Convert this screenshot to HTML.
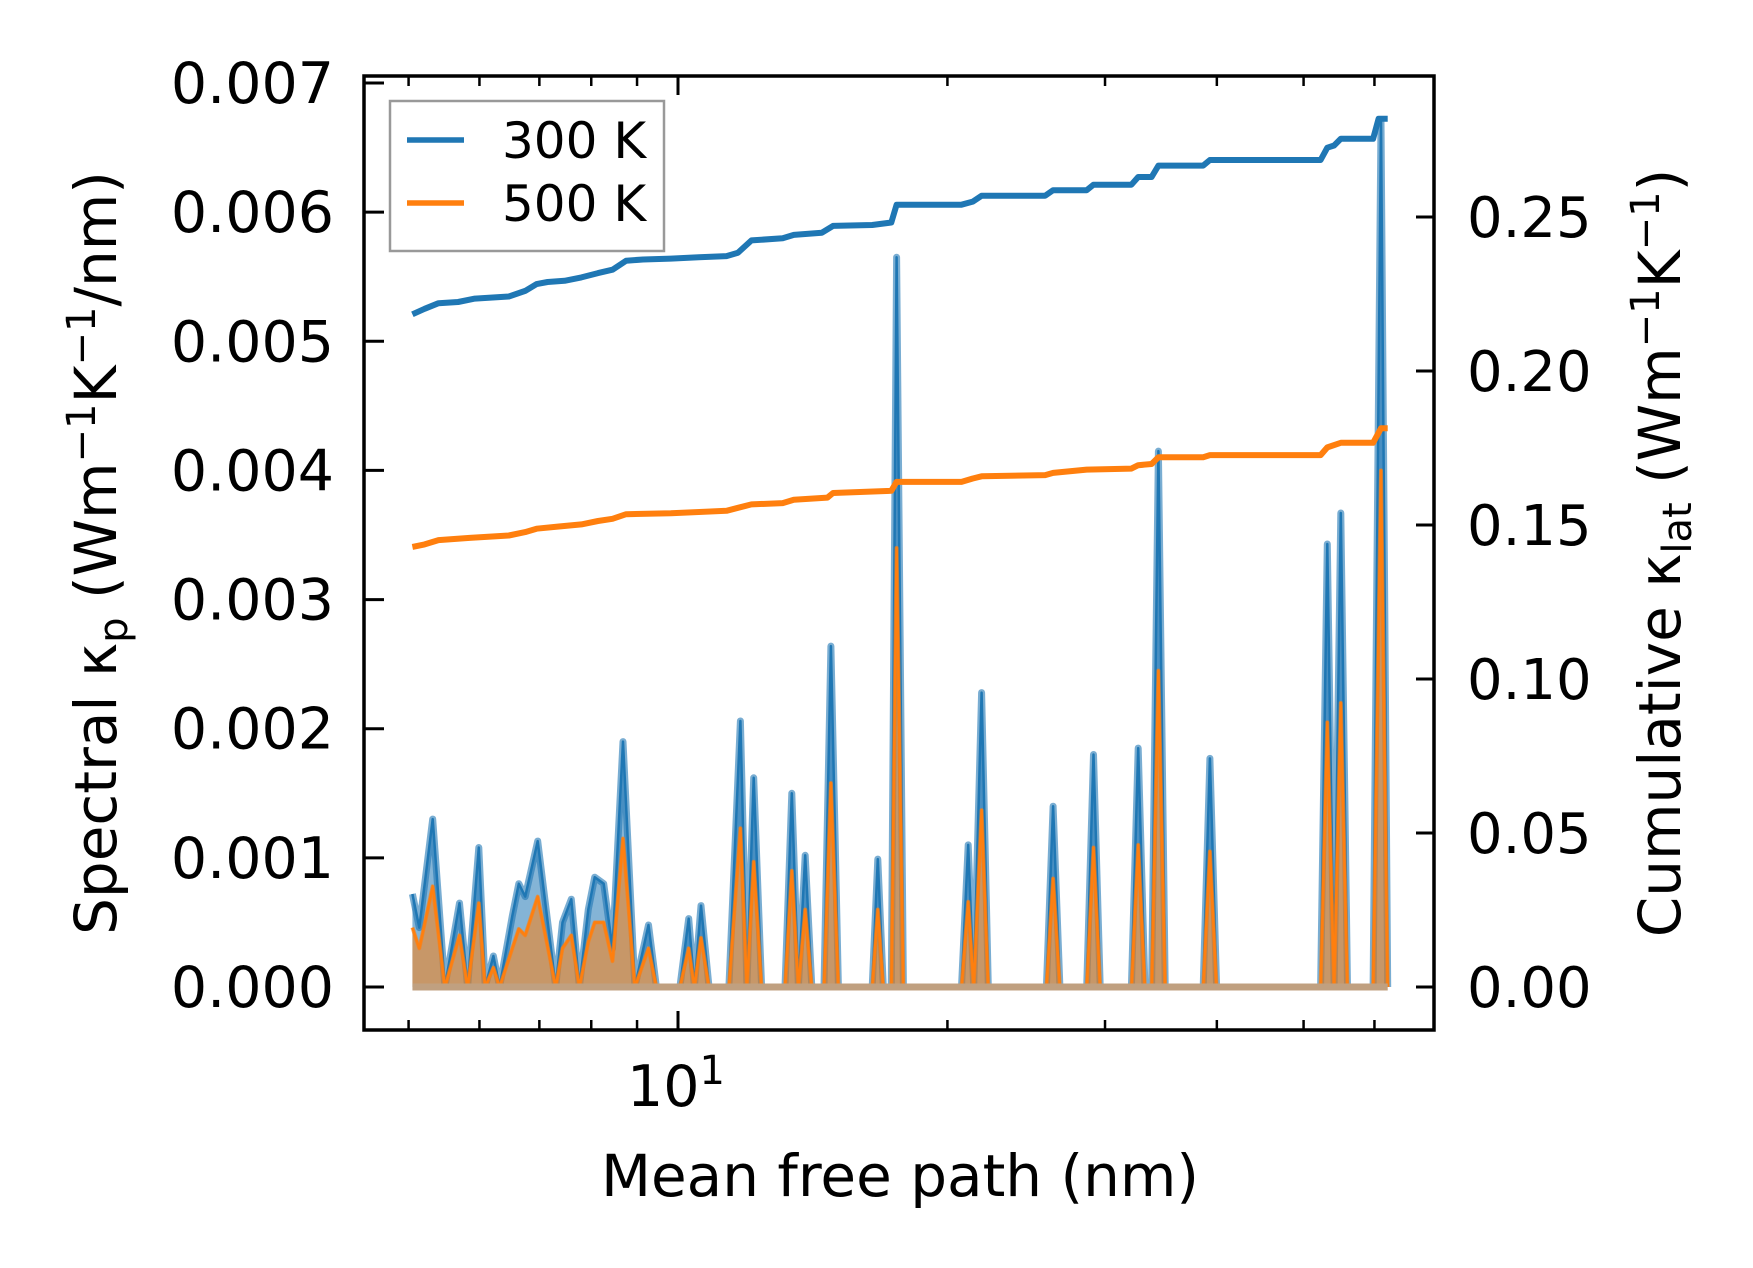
<!DOCTYPE html>
<html><head><meta charset="utf-8"><style>
html,body{margin:0;padding:0;background:#fff;}
svg{display:block;}
text{font-family:"DejaVu Sans","Liberation Sans",sans-serif;fill:#000;}
</style></head><body>
<svg id="chart" width="1753" height="1268" viewBox="0 0 1753 1268" xmlns="http://www.w3.org/2000/svg">
<rect width="1753" height="1268" fill="#fff"/>
<g id="marks"></g>
<g id="axes"></g>
<g>
<rect x="390" y="101" width="274" height="150" fill="#fff" fill-opacity="0.8" stroke="#999" stroke-width="2.5"/>
<line x1="407" y1="140" x2="464" y2="140" stroke="#1f77b4" stroke-width="5.5"/>
<text x="502" y="158" font-size="50">300 K</text>
<line x1="407" y1="203" x2="464" y2="203" stroke="#ff7f0e" stroke-width="5.5"/>
<text x="502" y="221" font-size="50">500 K</text>
</g>
<text x="900" y="1196" font-size="58" text-anchor="middle">Mean free path (nm)</text>
<text transform="translate(116,553) rotate(-90)" font-size="58" text-anchor="middle">Spectral κ<tspan font-size="40" dy="11">p</tspan><tspan dy="-11"> (Wm</tspan><tspan font-size="40" dy="-21">−1</tspan><tspan dy="21">K</tspan><tspan font-size="40" dy="-21">−1</tspan><tspan dy="21">/nm)</tspan></text>
<text transform="translate(1680,553) rotate(-90)" font-size="58" text-anchor="middle">Cumulative κ<tspan font-size="40" dy="11">lat</tspan><tspan dy="-11"> (Wm</tspan><tspan font-size="40" dy="-21">−1</tspan><tspan dy="21">K</tspan><tspan font-size="40" dy="-21">−1</tspan><tspan dy="21">)</tspan></text>
</svg>
<script>
const specMfp = [5.05,5.14,5.32,5.49,5.70,5.82,5.99,6.09,6.22,6.32,6.53,6.64,6.75,6.97,7.30,7.43,7.60,7.76,7.94,8.07,8.26,8.45,8.68,8.95,9.27,9.46,10.05,10.28,10.43,10.61,10.83,11.40,11.74,11.94,12.15,12.40,13.17,13.40,13.63,13.87,14.11,14.56,14.82,15.11,16.48,16.72,16.96,17.31,17.55,17.86,20.74,21.10,21.40,21.84,22.22,25.80,26.25,26.71,28.62,29.12,29.63,32.11,32.67,33.24,33.82,34.42,35.02,38.62,39.29,39.98,52.24,53.15,54.08,55.03,55.98,59.80,61.02,62.08];
const spec300 = [0.00072,0.00046,0.0013,0,0.00065,0,0.00108,0,0.00024,0,0.00055,0.0008,0.0007,0.00113,0,0.0005,0.00068,0,0.0006,0.00085,0.0008,0.0003,0.0019,0,0.00048,0,0,0.00053,0,0.00063,0,0,0.00206,0,0.00162,0,0,0.0015,0,0.00102,0,0,0.00264,0,0,0.00099,0,0,0.00565,0,0,0.0011,0,0.00228,0,0,0.0014,0,0,0.0018,0,0,0.00185,0,0,0.00415,0,0,0.00177,0,0,0.00343,0,0.00367,0,0,0.0067,0];
const spec500 = [0.00046,0.0003,0.00078,0,0.0004,0,0.00065,0,0.00015,0,0.0003,0.00045,0.0004,0.0007,0,0.0003,0.0004,0,0.00035,0.0005,0.0005,0.0002,0.00115,0,0.0003,0,0,0.0003,0,0.00038,0,0,0.00123,0,0.00097,0,0,0.0009,0,0.0006,0,0,0.00158,0,0,0.0006,0,0,0.0034,0,0,0.00066,0,0.00137,0,0,0.00084,0,0,0.00108,0,0,0.0011,0,0,0.00245,0,0,0.00105,0,0,0.00205,0,0.0022,0,0,0.004,0];
const cumMfp300 = [5.05,5.21,5.40,5.68,5.93,6.47,6.75,6.95,7.15,7.47,7.80,8.14,8.45,8.75,9.14,9.82,10.55,11.33,11.67,12.08,13.09,13.47,14.48,14.90,16.48,17.31,17.55,20.74,21.35,21.84,25.72,26.25,28.62,29.12,32.11,32.67,33.82,34.42,38.62,39.29,52.24,53.15,54.08,55.03,59.80,60.65,62.08];
const cum300 = [0.2184,0.2202,0.2220,0.2224,0.2235,0.2242,0.2260,0.2282,0.2289,0.2293,0.2304,0.2318,0.2329,0.2358,0.2362,0.2365,0.2369,0.2373,0.2384,0.2424,0.2431,0.2442,0.2449,0.2471,0.2474,0.2482,0.2540,0.2540,0.2550,0.2569,0.2569,0.2587,0.2587,0.2605,0.2605,0.2630,0.2630,0.2667,0.2667,0.2685,0.2685,0.2725,0.2732,0.2754,0.2754,0.2819,0.2819];
const cumMfp500 = [5.05,5.21,5.40,5.85,6.47,6.75,6.95,7.36,7.80,8.14,8.45,8.75,9.82,11.33,11.67,12.08,13.09,13.47,14.69,14.90,17.31,17.55,20.74,21.35,21.84,25.72,26.25,28.62,32.11,32.67,33.82,34.42,38.62,39.29,52.24,53.15,55.03,59.80,61.02,62.08];
const cum500 = [0.1429,0.1437,0.1451,0.1458,0.1466,0.1477,0.1488,0.1495,0.1502,0.1513,0.1520,0.1535,0.1538,0.1546,0.1556,0.1567,0.1571,0.1582,0.1589,0.1604,0.1611,0.1640,0.1640,0.1651,0.1658,0.1662,0.1669,0.1680,0.1683,0.1694,0.1698,0.1720,0.1720,0.1727,0.1727,0.1752,0.1767,0.1767,0.1814,0.1814];
const leftTicks = [0,0.001,0.002,0.003,0.004,0.005,0.006,0.007];
const leftTickLabels = ["0.000","0.001","0.002","0.003","0.004","0.005","0.006","0.007"];
const rightTicks = [0,0.05,0.10,0.15,0.20,0.25];
const rightTickLabels = ["0.00","0.05","0.10","0.15","0.20","0.25"];
const xMinorTicks = [5,6,7,8,9,20,30,40,50,60];
const xMajorTicks = [10];

const L=364,R=1434,T=76,B=1030;
const X = m => 678 + 895*Math.log10(m/10);
const YL = v => 987 - v*(904/0.007);
const YR = v => 987 - v*(770/0.25);
const NS="http://www.w3.org/2000/svg";
function mk(tag, parent, attrs){const e=document.createElementNS(NS,tag);for(const k in attrs)e.setAttribute(k,attrs[k]);parent.appendChild(e);return e;}
const marks=document.getElementById('marks'), axes=document.getElementById('axes');

function spectral(vals, fill, stroke, sw, name){
  let d='M'+X(specMfp[0])+','+YL(0);
  specMfp.forEach((m,i)=>{d+=' L'+X(m).toFixed(1)+','+YL(vals[i]).toFixed(1);});
  d+=' L'+X(specMfp[specMfp.length-1])+','+YL(0)+' Z';
  const a=mk('path',marks,{d:d,fill:fill,'fill-opacity':0.55,stroke:'none'});
  
  
  let d2='';
  specMfp.forEach((m,i)=>{d2+=(i?' L':'M')+X(m).toFixed(1)+','+YL(vals[i]).toFixed(1);});
  const l=mk('path',marks,{d:d2,fill:'none',stroke:stroke,'stroke-width':sw,'stroke-linejoin':'round','stroke-opacity':0.6});
  
  
  const l2=mk('path',marks,{d:d2,fill:'none',stroke:stroke,'stroke-width':2.5,'stroke-linejoin':'round'});
  
  
}
spectral(spec300,'#1f77b4','#1f77b4',7,'spectral-300k');
spectral(spec500,'#ff7f0e','#ff7f0e',4,'spectral-500k');
const base=mk('line',marks,{x1:X(specMfp[0]),x2:X(specMfp[specMfp.length-1]),y1:YL(0),y2:YL(0),stroke:'#c0a080','stroke-width':7});



function cum(ms, vals, color, name){
  let d='';
  ms.forEach((m,i)=>{d+=(i?' L':'M')+X(m).toFixed(1)+','+YR(vals[i]).toFixed(1);});
  const p=mk('path',marks,{d:d,fill:'none',stroke:color,'stroke-width':6,'stroke-linejoin':'round'});
  
  
}
cum(cumMfp300,cum300,'#1f77b4','cumulative-300k-line');
cum(cumMfp500,cum500,'#ff7f0e','cumulative-500k-line');

const frame=mk('rect',axes,{x:L,y:T,width:R-L,height:B-T,fill:'none',stroke:'#000','stroke-width':3.5});


leftTicks.forEach((v,i)=>{
  const y=YL(v);
  const t=mk('line',axes,{x1:L,x2:L+20,y1:y,y2:y,stroke:'#000','stroke-width':3});
  
  
  const tx=mk('text',axes,{x:334,y:y+20,'font-size':57,'text-anchor':'end'});
  tx.textContent=leftTickLabels[i];
  
  
});
rightTicks.forEach((v,i)=>{
  const y=YR(v);
  const t=mk('line',axes,{x1:R-18,x2:R,y1:y,y2:y,stroke:'#000','stroke-width':3});
  
  
  const tx=mk('text',axes,{x:1467,y:y+20,'font-size':56});
  tx.textContent=rightTickLabels[i];
  
  
});
xMinorTicks.forEach(m=>{
  const x=X(m);
  const t=mk('line',axes,{x1:x,x2:x,y1:B,y2:B-10,stroke:'#000','stroke-width':2.5});
  
  
  const t2=mk('line',axes,{x1:x,x2:x,y1:T,y2:T+10,stroke:'#000','stroke-width':2.5});
  
  
});
xMajorTicks.forEach(m=>{
  const x=X(m);
  const t=mk('line',axes,{x1:x,x2:x,y1:B,y2:B-19,stroke:'#000','stroke-width':3});
  
  
  const t2=mk('line',axes,{x1:x,x2:x,y1:T,y2:T+19,stroke:'#000','stroke-width':3});
  
  
  const tx=mk('text',axes,{x:x-2,y:1106,'font-size':57,'text-anchor':'middle'});
  
  
  tx.appendChild(document.createTextNode('10'));
  const sup=mk('tspan',tx,{'font-size':40,dy:-22});
  sup.textContent=String(Math.round(Math.log10(m)));
});
</script>
</body></html>
